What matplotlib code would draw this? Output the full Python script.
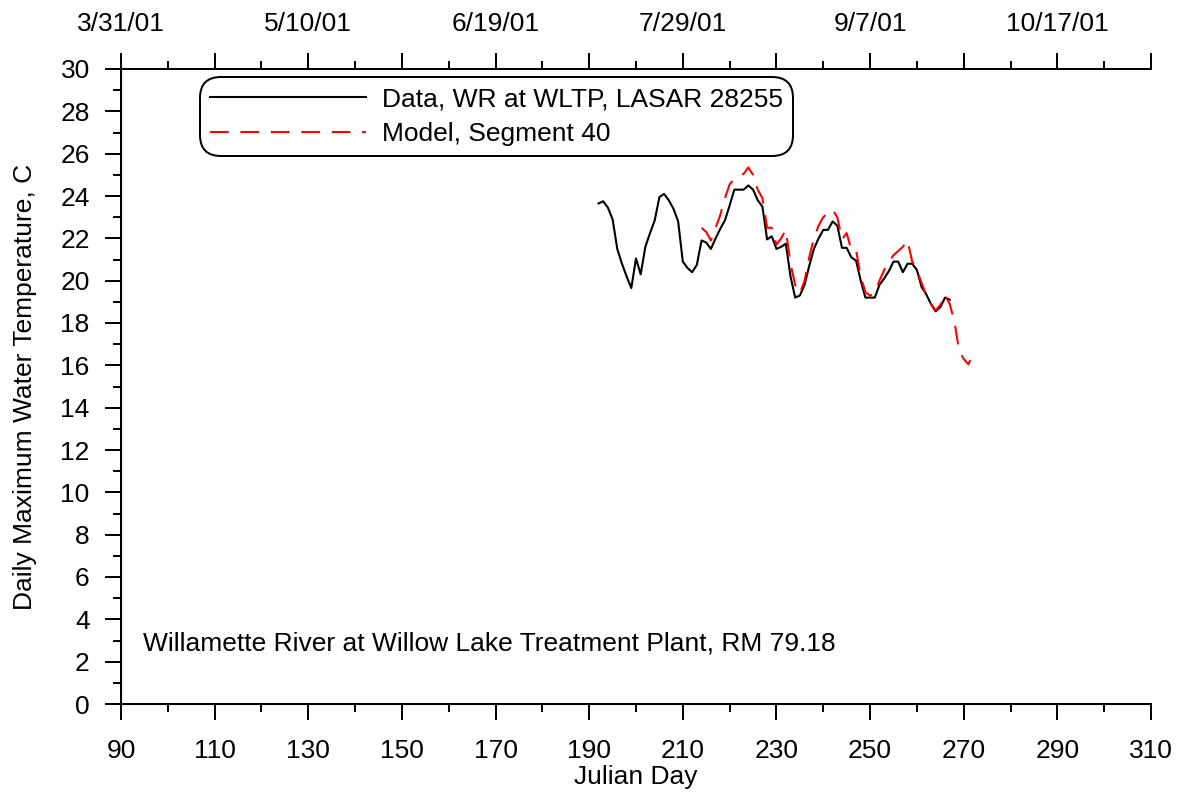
import matplotlib
matplotlib.use('Agg')
import matplotlib.pyplot as plt
from matplotlib.ticker import MultipleLocator, FixedLocator

plt.rcParams['font.family'] = ['Liberation Sans', 'DejaVu Sans']

# Observed daily max temperature, WR at WLTP
dataDay = [192, 193, 194, 195, 196, 197, 198, 199, 200, 201, 202, 203, 204,
           205, 206, 207, 208, 209, 210, 211, 212, 213, 214, 215, 216, 217,
           218, 219, 220, 221, 222, 223, 224, 225, 226, 227, 228, 229, 230,
           231, 232, 233, 234, 235, 236, 237, 238, 239, 240, 241, 242, 243,
           244, 245, 246, 247, 248, 249, 250, 251, 252, 253, 254, 255, 256,
           257, 258, 259, 260, 261, 262, 263, 264, 265, 266, 267]
dataTemp = [23.65, 23.75, 23.45, 22.9, 21.5, 20.8, 20.2, 19.65, 21.05, 20.3,
            21.6, 22.25, 22.85, 23.95, 24.1, 23.8, 23.4, 22.8, 20.9, 20.6,
            20.4, 20.75, 21.9, 21.8, 21.5, 22.0, 22.45, 22.85, 23.55, 24.3,
            24.3, 24.3, 24.5, 24.3, 23.8, 23.5, 21.95, 22.1, 21.5, 21.6,
            21.75, 20.2, 19.2, 19.3, 19.8, 20.7, 21.5, 22.0, 22.4, 22.4,
            22.8, 22.6, 21.55, 21.55, 21.1, 20.95, 20.0, 19.2, 19.2, 19.2,
            19.8, 20.1, 20.45, 20.9, 20.9, 20.4, 20.8, 20.8, 20.5, 19.7,
            19.35, 18.9, 18.55, 18.75, 19.2, 19.1]

# Model output, segment 40
modelDay = [214, 215, 216, 217, 218, 219, 220, 221, 222, 223, 224, 225, 226,
            227, 228, 229, 230, 231, 232, 233, 234, 235, 236, 237, 238, 239,
            240, 241, 242, 243, 244, 245, 246, 247, 248, 249, 250, 251, 252,
            253, 254, 255, 256, 257, 258, 259, 260, 261, 262, 263, 264, 265,
            266, 267, 268, 269, 270, 271, 271.4]
modelTemp = [22.5, 22.3, 21.9, 22.5, 23.1, 23.9, 24.55, 24.8, 24.95, 25.05,
             25.35, 25.0, 24.3, 23.9, 22.5, 22.5, 21.7, 22.0, 22.4, 20.8,
             19.8, 19.4, 20.0, 21.1, 22.0, 22.6, 23.0, 23.2, 23.35, 23.0,
             21.95, 22.25, 21.45, 21.45, 20.2, 19.45, 19.3, 19.4, 20.0, 20.5,
             20.9, 21.2, 21.4, 21.6, 21.9, 20.9, 20.5, 19.9, 19.3, 18.9,
             18.6, 18.85, 19.35, 18.9, 18.1, 16.7, 16.3, 16.05, 16.25]

# Julian day ticks and the matching calendar dates on the top axis
dayTicks = list(range(90, 311, 20))
topLabels = ['3/31/01', '', '5/10/01', '', '6/19/01', '', '7/29/01', '',
             '9/7/01', '', '10/17/01', '']

fs = 19
majLen = 11.5
minLen = 5.8
tw = 1.44

fig = plt.figure(figsize=(11.81, 7.94), dpi=100)
ax = fig.add_axes([121/1181, 90/794, 1030/1181, 635/794])

ax.plot(dataDay, dataTemp, color='black', lw=1.5,
        label='Data, WR at WLTP, LASAR 28255')
ax.plot(modelDay, modelTemp, color='red', lw=1.5, dashes=(9, 5.6),
        label='Model, Segment 40')

ax.set_xlim(90, 310)
ax.set_ylim(0, 30)
ax.xaxis.set_major_locator(FixedLocator(dayTicks))
ax.xaxis.set_minor_locator(MultipleLocator(10))
ax.yaxis.set_major_locator(MultipleLocator(2))
ax.yaxis.set_minor_locator(MultipleLocator(1))
ax.spines['right'].set_visible(False)
for s in ['left', 'bottom', 'top']:
    ax.spines[s].set_linewidth(tw)
ax.tick_params(which='major', direction='out', length=majLen, width=tw,
               labelsize=fs)
ax.tick_params(which='minor', direction='out', length=minLen, width=tw)
ax.tick_params(axis='x', pad=14)
ax.tick_params(axis='y', pad=11)
ax.tick_params(axis='both', which='both', top=False, right=False)

ax.set_xlabel('Julian Day', fontsize=fs, labelpad=1)
ax.set_ylabel('Daily Maximum Water Temperature, C', fontsize=fs,
              labelpad=17)

# Date axis along the top
ax2 = ax.twiny()
ax2.set_xlim(ax.get_xlim())
ax2.xaxis.set_major_locator(FixedLocator(dayTicks))
ax2.set_xticklabels(topLabels)
ax2.xaxis.set_minor_locator(MultipleLocator(10))
ax2.spines['right'].set_visible(False)
ax2.spines['top'].set_linewidth(tw)
ax2.tick_params(which='major', direction='out', length=majLen, width=tw,
                labelsize=fs, pad=12)
ax2.tick_params(which='minor', direction='out', length=minLen, width=tw)

ax.text(0.021, 0.095,
        'Willamette River at Willow Lake Treatment Plant, RM 79.18',
        transform=ax.transAxes, fontsize=fs, va='center', ha='left')

leg = ax.legend(loc='upper left', bbox_to_anchor=(0.077, 0.987),
                borderaxespad=0, fontsize=fs, handlelength=5.9,
                handletextpad=0.6, fancybox=True, framealpha=1,
                edgecolor='black', borderpad=0.38, labelspacing=0.4)
leg.get_frame().set_linewidth(tw)
leg.get_frame().set_boxstyle('round', pad=0.0, rounding_size=0.8)

fig.savefig('out.png', dpi=100)
